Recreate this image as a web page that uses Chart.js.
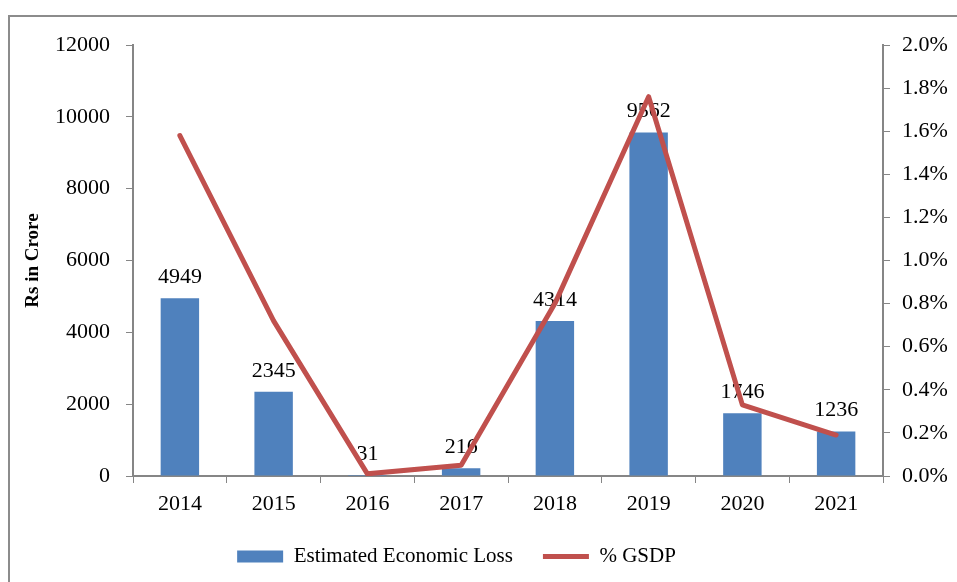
<!DOCTYPE html>
<html>
<head>
<meta charset="utf-8">
<script src="https://cdn.jsdelivr.net/npm/chart.js@4/dist/chart.umd.min.js"></script>
<style>
  body { margin: 0; background: #fff; }
  #wrap { position: relative; width: 957px; height: 582px; overflow: hidden; }
  #frame { position: absolute; left: 8px; top: 15px; width: 1000px; height: 600px;
           border-top: 2px solid #8c8c8c; border-left: 2px solid #8c8c8c; }
  canvas { position: absolute; left: 0; top: 0; }
</style>
</head>
<body>
<div id="wrap">
  <div id="frame"></div>
  <canvas id="lossChart" width="957" height="582"></canvas>
</div>
<script>
var years = ["2014", "2015", "2016", "2017", "2018", "2019", "2020", "2021"];
var economicLoss = [4949, 2345, 31, 216, 4314, 9562, 1746, 1236];
var gsdpPercent = [1.58, 0.72, 0.01, 0.05, 0.80, 1.76, 0.33, 0.19];
var lossTicks = [0, 2000, 4000, 6000, 8000, 10000, 12000];
var gsdpTicks = [0, 0.2, 0.4, 0.6, 0.8, 1.0, 1.2, 1.4, 1.6, 1.8, 2.0];

var serif = "'Liberation Serif', 'Times New Roman', serif";
var axisGrey = "#868686";

// values above the bars, drawn before the line so the line sits on top
var barLabels = {
  id: "barLabels",
  afterDatasetDraw: function(chart, args) {
    if (args.meta.type !== "bar") return;
    var ctx = chart.ctx;
    ctx.save();
    ctx.font = "22px " + serif;
    ctx.fillStyle = "#000";
    ctx.textAlign = "center";
    ctx.textBaseline = "bottom";
    args.meta.data.forEach(function(bar, i) {
      ctx.fillText(economicLoss[i], bar.x, bar.y - 10);
    });
    ctx.restore();
  }
};

// legend sits a little left of the page centre in the original
var legendShift = {
  id: "legendShift",
  afterLayout: function(chart) {
    chart.legend.left -= 22;
    chart.legend.right -= 22;
  }
};

var ctx = document.getElementById("lossChart").getContext("2d");
var lossChart = new Chart(ctx, {
  type: "bar",
  data: {
    labels: years,
    datasets: [
      { type: "bar", label: "Estimated Economic Loss", data: economicLoss,
        backgroundColor: "#4F81BD", yAxisID: "y", order: 1,
        barPercentage: 0.41, categoryPercentage: 1 },
      { type: "line", label: "% GSDP", data: gsdpPercent,
        borderColor: "#C0504D", backgroundColor: "#C0504D", borderWidth: 5,
        borderCapStyle: "round", borderJoinStyle: "round",
        pointRadius: 0, tension: 0, yAxisID: "y1", order: 0 }
    ]
  },
  options: {
    responsive: false,
    animation: false,
    layout: { padding: { top: 45, left: 0, right: 0, bottom: 5 } },
    plugins: {
      tooltip: { enabled: false },
      legend: {
        position: "bottom",
        labels: {
          sort: function(a, b) { return a.datasetIndex - b.datasetIndex; },
          usePointStyle: true,
          pointStyleWidth: 46,
          boxHeight: 12,
          padding: 30,
          color: "#000",
          font: { family: serif, size: 21 },
          generateLabels: function(chart) {
            var items = Chart.defaults.plugins.legend.labels.generateLabels(chart);
            items.forEach(function(it) {
              it.pointStyle = it.datasetIndex === 0 ? "rect" : "line";
              if (it.datasetIndex === 0) it.lineWidth = 0;
            });
            return items;
          }
        }
      }
    },
    scales: {
      x: {
        offset: true,
        grid: { display: true, drawOnChartArea: false, drawTicks: true, tickLength: 7, color: axisGrey, offset: true },
        border: { display: true, color: axisGrey, width: 2 },
        ticks: { color: "#000", padding: 8, font: { family: serif, size: 22 } },
        afterFit: function(s) { s.height = 40; }
      },
      y: {
        position: "left",
        min: 0, max: 12000,
        afterBuildTicks: function(s) { s.ticks = lossTicks.map(function(v) { return { value: v }; }); },
        grid: { display: true, drawOnChartArea: false, drawTicks: true, tickLength: 7, color: axisGrey },
        border: { display: true, color: axisGrey, width: 2 },
        ticks: { color: "#000", padding: 16, font: { family: serif, size: 22 },
                 callback: function(v) { return String(v); } },
        title: { display: true, text: "Rs in Crore", color: "#000", padding: { top: 22, bottom: 0 },
                 font: { family: serif, size: 19, weight: "bold" } },
        afterFit: function(s) { s.width = 133; }
      },
      y1: {
        position: "right",
        min: 0, max: 2.0,
        afterBuildTicks: function(s) { s.ticks = gsdpTicks.map(function(v) { return { value: v }; }); },
        grid: { display: true, drawOnChartArea: false, drawTicks: true, tickLength: 7, color: axisGrey },
        border: { display: true, color: axisGrey, width: 2 },
        ticks: { color: "#000", padding: 12, font: { family: serif, size: 22 },
                 callback: function(v) { return v.toFixed(1) + "%"; } },
        afterFit: function(s) { s.width = 957 - 883; }
      }
    }
  },
  plugins: [barLabels, legendShift]
});
</script>
</body>
</html>
